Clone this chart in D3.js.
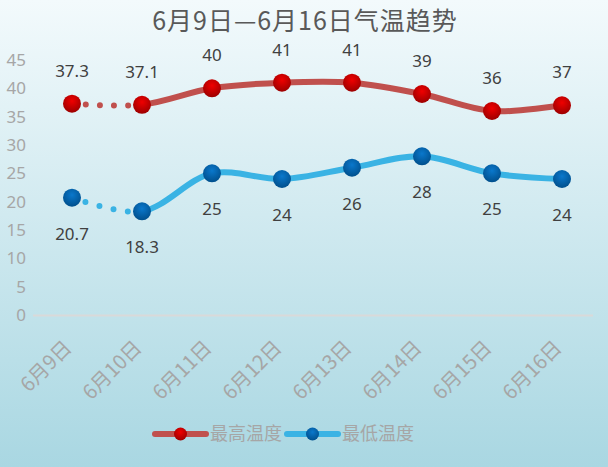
<!DOCTYPE html>
<html>
<head>
<meta charset="utf-8">
<title>气温趋势</title>
<style>
body { margin: 0; }
</style>
</head>
<body>
<script src="https://cdn.jsdelivr.net/npm/d3@7"></script>
<script>

var days = ["6月9日", "6月10日", "6月11日", "6月12日", "6月13日", "6月14日", "6月15日", "6月16日"];
var highTemp = [37.3, 37.1, 40, 41, 41, 39, 36, 37];
var lowTemp = [20.7, 18.3, 25, 24, 26, 28, 25, 24];
var yTicks = [0, 5, 10, 15, 20, 25, 30, 35, 40, 45];
var seriesNames = ["最高温度", "最低温度"];

var w = 608, h = 467;
var cjk = "'Noto Sans CJK SC', 'Noto Sans', sans-serif";

var svg = d3.select("body").append("svg")
  .attr("width", w)
  .attr("height", h);

var defs = svg.append("defs");
var bg = defs.append("linearGradient").attr("id", "bg")
  .attr("x1", 0).attr("y1", 0).attr("x2", 0).attr("y2", 1);
bg.append("stop").attr("offset", "0%").attr("stop-color", "#f3fafc");
bg.append("stop").attr("offset", "100%").attr("stop-color", "#a9d7e2");

function ball(id, c1, c2) {
  var g = defs.append("radialGradient").attr("id", id)
    .attr("cx", "50%").attr("cy", "35%").attr("r", "65%");
  g.append("stop").attr("offset", "0%").attr("stop-color", c1);
  g.append("stop").attr("offset", "100%").attr("stop-color", c2);
}
ball("ballRed", "#f00000", "#9c0000");
ball("ballBlue", "#0a78cc", "#004f8c");

svg.append("rect").attr("width", w).attr("height", h).attr("fill", "url(#bg)");

var x = d3.scaleBand().domain(days).range([37, 597]);
var y = d3.scaleLinear().domain([0, 45]).range([315, 60]);

// title
svg.append("text")
  .attr("x", 305).attr("y", 30)
  .attr("text-anchor", "middle")
  .attr("font-family", cjk)
  .attr("font-size", "25px")
  .attr("letter-spacing", "1px")
  .attr("fill", "#595959")
  .text("6月9日—6月16日气温趋势");

// y axis
var yAxis = svg.append("g")
  .attr("transform", "translate(26,0)")
  .call(d3.axisLeft(y).tickValues(yTicks).tickSize(0).tickPadding(0));
yAxis.select(".domain").remove();
yAxis.selectAll("text")
  .attr("font-family", "'Noto Sans', sans-serif")
  .attr("font-size", "17px")
  .attr("fill", "#a6a6a6");

// x axis
var xAxis = svg.append("g")
  .attr("transform", "translate(0,315)")
  .call(d3.axisBottom(x).tickSize(0).tickPadding(0));
xAxis.select(".domain")
  .attr("d", "M33,0.5H593")
  .attr("stroke", "#d9d9d9")
  .attr("stroke-width", 2);
xAxis.selectAll("text")
  .attr("font-family", cjk)
  .attr("font-size", "20px")
  .attr("fill", "#a6a6a6")
  .attr("text-anchor", "end")
  .attr("dy", null)
  .attr("transform", "translate(1,34) rotate(-45)");

var line = d3.line()
  .x(function(d, i) { return x(days[i]) + x.bandwidth() / 2; })
  .y(function(d) { return y(d); })
  .curve(d3.curveCatmullRom.alpha(0.5));

function drawSeries(data, color, ballId, labelDy) {
  var path = svg.append("path")
    .datum(data)
    .attr("d", line)
    .attr("fill", "none")
    .attr("stroke", color)
    .attr("stroke-width", 6)
    .attr("stroke-linecap", "round");

  // first segment dotted: find its length along the curve
  var node = path.node();
  var total = node.getTotalLength();
  var x1 = x(days[1]) + x.bandwidth() / 2;
  var lo = 0, hi = total;
  for (var k = 0; k < 40; k++) {
    var mid = (lo + hi) / 2;
    if (node.getPointAtLength(mid).x < x1) lo = mid; else hi = mid;
  }
  var seg = lo, n = 5, gap = seg / n, dash = [];
  for (var j = 0; j < n; j++) dash.push(0, gap);
  dash.push(total, 0);
  path.attr("stroke-dasharray", dash.join(" "));

  svg.selectAll(null)
    .data(data).enter()
    .append("circle")
    .attr("cx", function(d, i) { return x(days[i]) + x.bandwidth() / 2; })
    .attr("cy", function(d) { return y(d); })
    .attr("r", 9)
    .attr("fill", "url(#" + ballId + ")");

  svg.selectAll(null)
    .data(data).enter()
    .append("text")
    .attr("x", function(d, i) { return x(days[i]) + x.bandwidth() / 2; })
    .attr("y", function(d) { return y(d) + labelDy; })
    .attr("text-anchor", "middle")
    .attr("font-family", "'Noto Sans', sans-serif")
    .attr("font-size", "17px")
    .attr("fill", "#404040")
    .text(function(d) { return d; });
}

drawSeries(highTemp, "#c0504d", "ballRed", -27);
drawSeries(lowTemp, "#3ab3e4", "ballBlue", 42);

// legend
var legend = [
  { name: seriesNames[0], color: "#c0504d", ball: "ballRed", x: 155 },
  { name: seriesNames[1], color: "#3ab3e4", ball: "ballBlue", x: 287 }
];
var lg = svg.selectAll(".lg").data(legend).enter().append("g")
  .attr("transform", function(d) { return "translate(" + d.x + ",434)"; });
lg.append("line")
  .attr("x1", 0).attr("x2", 51)
  .attr("stroke", function(d) { return d.color; })
  .attr("stroke-width", 6)
  .attr("stroke-linecap", "round");
lg.append("circle")
  .attr("cx", 25.5).attr("r", 6.5)
  .attr("fill", function(d) { return "url(#" + d.ball + ")"; });
lg.append("text")
  .attr("x", 55).attr("y", 6)
  .attr("font-family", cjk)
  .attr("font-size", "18px")
  .attr("fill", "#a6a6a6")
  .text(function(d) { return d.name; });

</script>
</body>
</html>
